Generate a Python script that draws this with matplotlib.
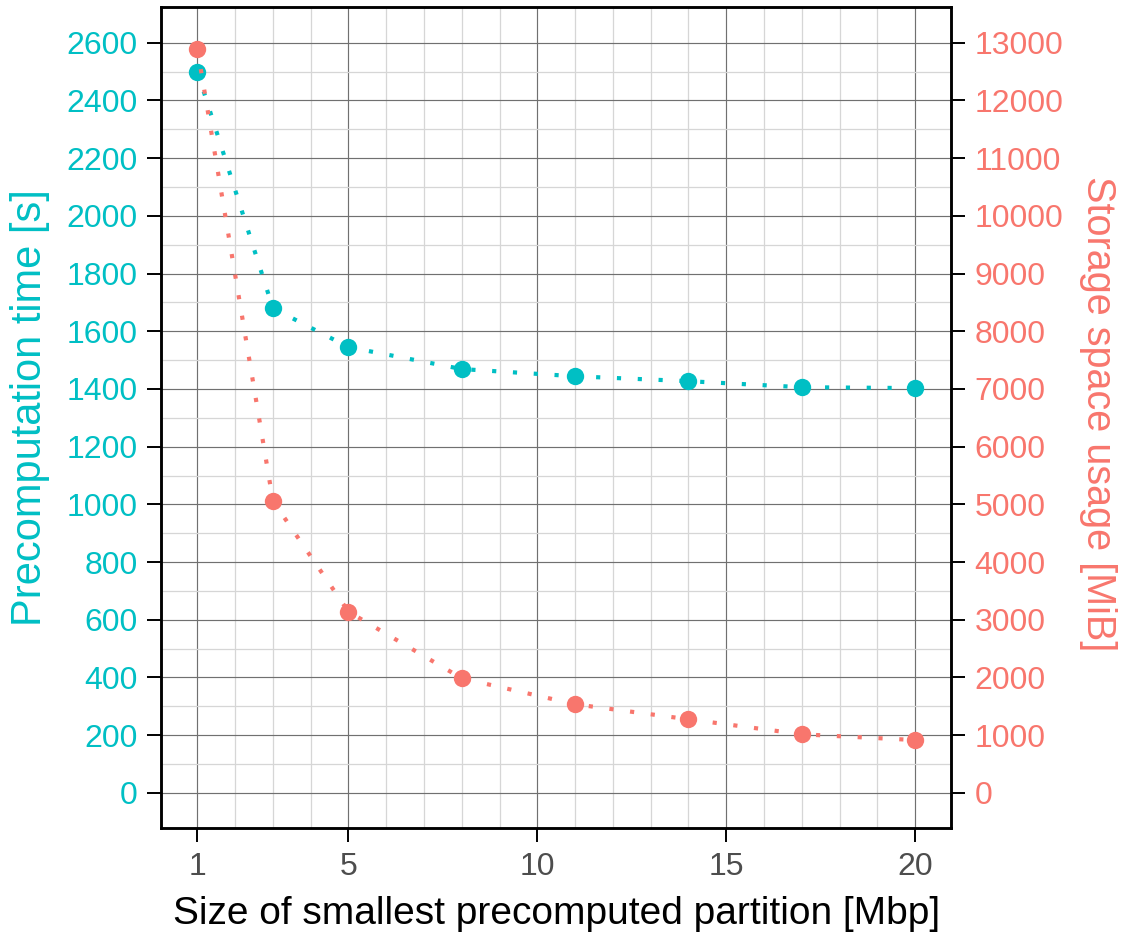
import matplotlib
matplotlib.use("Agg")
import matplotlib.pyplot as plt
from matplotlib.ticker import FixedLocator

plt.rcParams['font.family'] = ['Liberation Sans', 'DejaVu Sans']

# ---- data ----
partition_mbp = [1, 3, 5, 8, 11, 14, 17, 20]
precomp_time_s = [2500, 1680, 1545, 1469, 1444, 1427, 1406, 1403]
storage_mib = [12900, 5060, 3140, 1985, 1535, 1275, 1015, 915]

x_major = [1, 5, 10, 15, 20]
x_minor = [v for v in range(2, 20) if v not in x_major]
y_left_major = list(range(0, 2601, 200))
y_left_minor = list(range(100, 2600, 200))
y_right_major = list(range(0, 13001, 1000))

TEAL = '#00BFC4'
SALMON = '#F8766D'

fig = plt.figure(figsize=(11.22, 9.35), dpi=100)
ax = fig.add_axes([0.1439, 0.1144, 0.7037, 0.8781])
ax2 = ax.twinx()

ylo, yhi = -122, 2724
ax.set_xlim(0.05, 20.95)
ax.set_ylim(ylo, yhi)
ax2.set_ylim(ylo * 5, yhi * 5)

# grid
ax.xaxis.set_major_locator(FixedLocator(x_major))
ax.xaxis.set_minor_locator(FixedLocator(x_minor))
ax.yaxis.set_major_locator(FixedLocator(y_left_major))
ax.yaxis.set_minor_locator(FixedLocator(y_left_minor))
ax2.yaxis.set_major_locator(FixedLocator(y_right_major))
ax.grid(True, which='major', color='#707070', linewidth=0.85, zorder=0)
ax.grid(True, which='minor', color='#d6d6d6', linewidth=0.9, zorder=0)
ax.set_axisbelow(True)

dot = (0, (1.0, 4.0))
ax.plot(partition_mbp, precomp_time_s, color=TEAL, linewidth=3.0,
        linestyle=dot, dash_capstyle='butt', zorder=3)
ax.plot(partition_mbp, precomp_time_s, 'o', color=TEAL, markersize=12.5,
        markeredgewidth=0, zorder=4)
ax2.plot(partition_mbp, storage_mib, color=SALMON, linewidth=3.0,
         linestyle=dot, dash_capstyle='butt', zorder=3)
ax2.plot(partition_mbp, storage_mib, 'o', color=SALMON, markersize=12.5,
         markeredgewidth=0, zorder=4)

for a in (ax, ax2):
    for s in a.spines.values():
        s.set_linewidth(1.8)
        s.set_color('black')
ax2.patch.set_visible(False)

ax.tick_params(axis='both', which='major', length=10, width=1.4, color='black',
               labelsize=23, pad=7)
ax.tick_params(axis='both', which='minor', length=0)
ax.tick_params(axis='x', labelcolor='#4D4D4D')
ax.tick_params(axis='y', labelcolor=TEAL)
ax2.tick_params(axis='y', which='major', length=10, width=1.4, color='black',
                labelsize=23, pad=7, labelcolor=SALMON)
ax2.tick_params(axis='y', which='minor', length=0)

ax.set_xticklabels([str(v) for v in x_major])

ax.set_xlabel('Size of smallest precomputed partition [Mbp]', fontsize=28,
              color='black', labelpad=10)
ax.set_ylabel('Precomputation time [s]', fontsize=30, color=TEAL,
              va='center', ha='center')
ax.yaxis.set_label_coords(-0.1666, 0.512)
ax2.set_ylabel('Storage space usage [MiB]', fontsize=28.5, color=SALMON,
               rotation=-90, va='center', ha='center')
ax2.yaxis.set_label_coords(1.186, 0.505)

fig.savefig('out.png', dpi=100)
